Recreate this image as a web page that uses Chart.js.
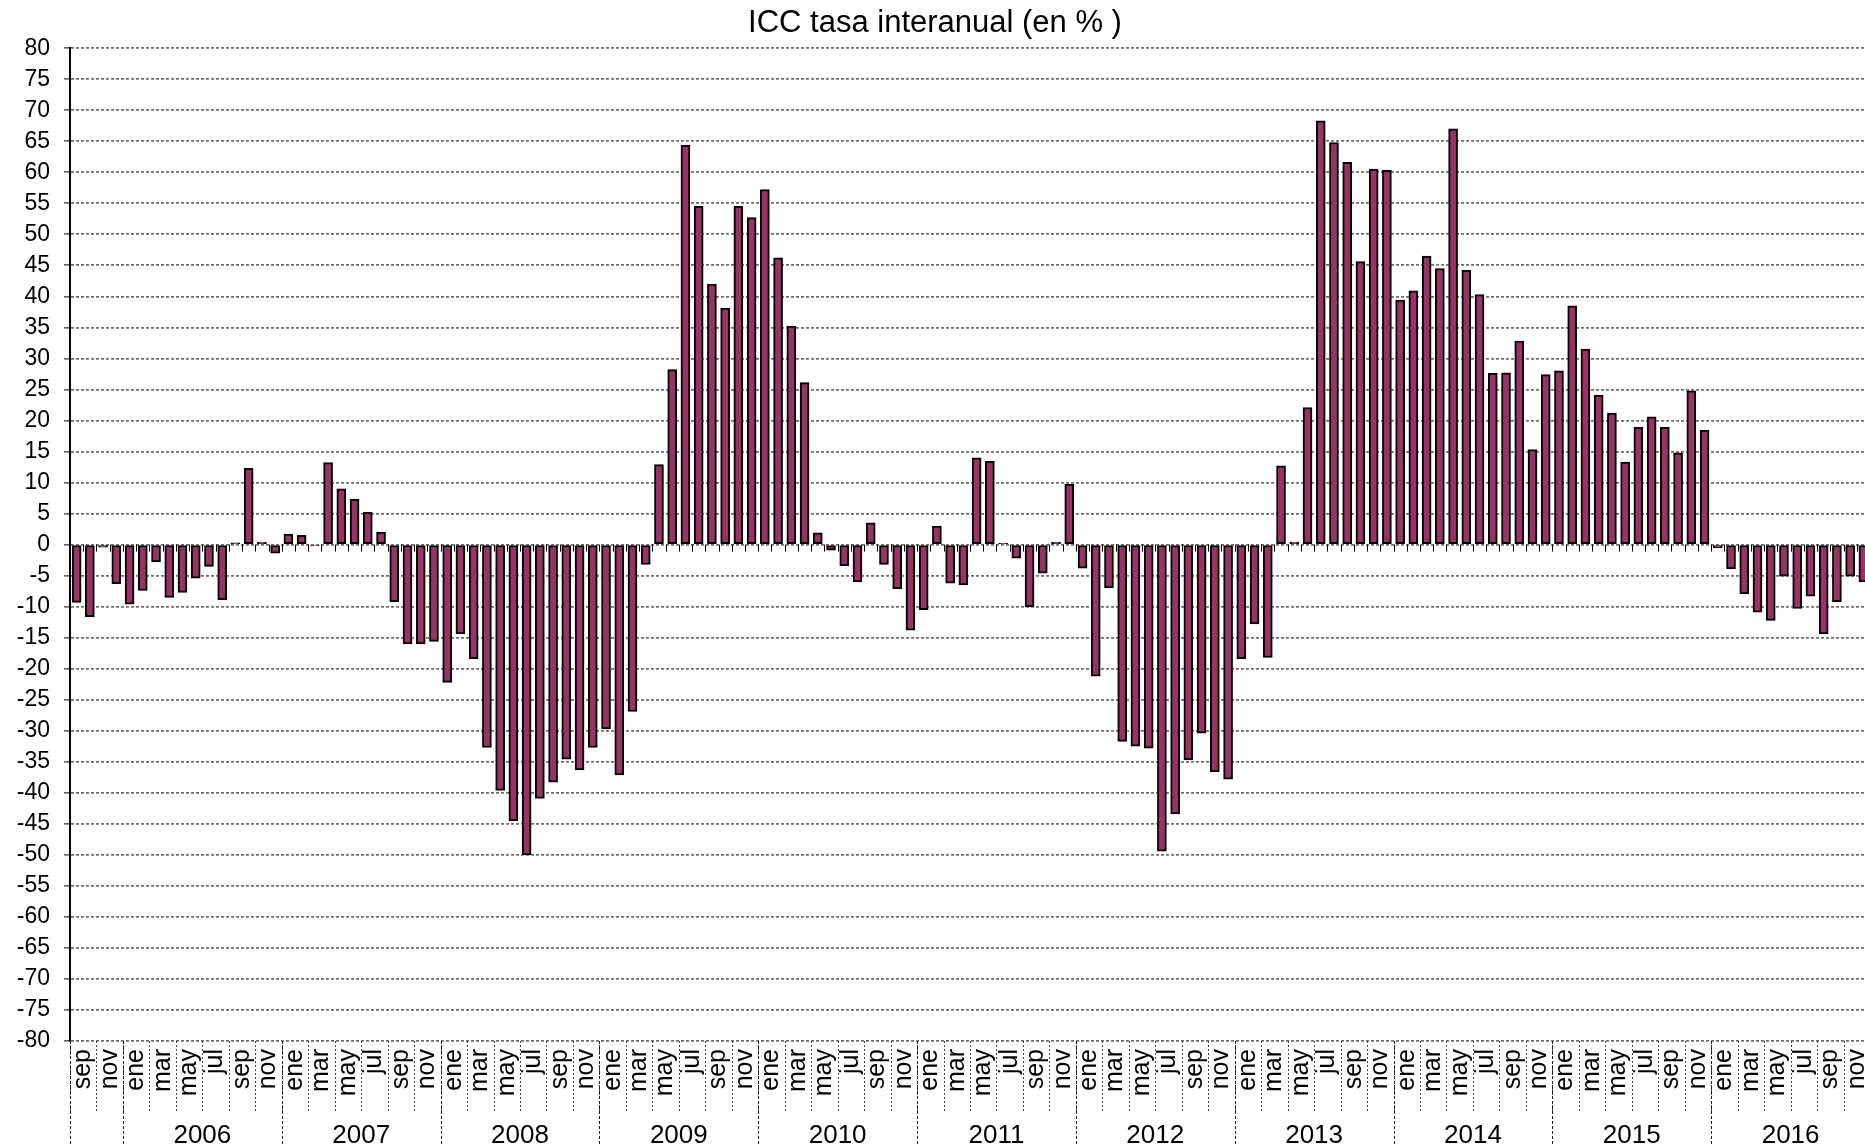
<!DOCTYPE html>
<html>
<head>
<meta charset="utf-8">
<title>ICC tasa interanual</title>
<script src="https://cdn.jsdelivr.net/npm/chart.js@4"></script>
<style>
  html, body { margin: 0; padding: 0; background: #fff; overflow: hidden; }
  canvas { display: block; }
</style>
</head>
<body>
<canvas id="iccChart" width="1872" height="1146"></canvas>
<script>
// ICC tasa interanual (en %), serie mensual sep 2005 - dic 2016

const monthNames = ['ene', 'feb', 'mar', 'abr', 'may', 'jun', 'jul', 'ago', 'sep', 'oct', 'nov', 'dic'];
const years = [2005, 2006, 2007, 2008, 2009, 2010, 2011, 2012, 2013, 2014, 2015, 2016];
const firstMonth = 8; // the series starts in sep 2005

// values read per year (2005 only sep-dic)
const icc2005 = [-9.3, -11.6, -0.4, -6.3];
const icc2006 = [-9.6, -7.4, -2.8, -8.5, -7.7, -5.4, -3.5, -8.9, 0.3, 12.3, 0.4, -1.4];
const icc2007 = [1.7, 1.5, -0.2, 13.2, 9.0, 7.3, 5.2, 2.0, -9.2, -16.0, -16.0, -15.6];
const icc2008 = [-22.2, -14.4, -18.4, -32.7, -39.6, -44.5, -50.0, -40.9, -38.3, -34.6, -36.3, -32.7];
const icc2009 = [-29.7, -37.1, -26.9, -3.2, 12.9, 28.2, 64.4, 54.5, 42.0, 38.1, 54.5, 52.7];
const icc2010 = [57.2, 46.2, 35.2, 26.1, 1.9, -0.9, -3.4, -6.0, 3.5, -3.2, -7.1, -13.8];
const icc2011 = [-10.5, 3.0, -6.2, -6.5, 14.0, 13.4, 0.2, -2.2, -10.0, -4.6, 0.4, 9.7];
const icc2012 = [-3.8, -21.2, -7.0, -31.7, -32.5, -32.8, -49.4, -43.4, -34.7, -30.4, -36.6, -37.8];
const icc2013 = [-18.4, -12.8, -18.2, 12.7, 0.4, 22.1, 68.3, 64.8, 61.6, 45.6, 60.5, 60.3];
const icc2014 = [39.4, 40.9, 46.5, 44.5, 67.0, 44.2, 40.3, 27.6, 27.7, 32.8, 15.3, 27.4];
const icc2015 = [28.0, 38.5, 31.5, 24.1, 21.2, 13.3, 18.9, 20.6, 18.9, 14.8, 24.8, 18.4];
const icc2016 = [-0.5, -3.9, -7.9, -10.9, -12.2, -5.1, -10.3, -8.3, -14.4, -9.2, -5.1, -6.0];

const iccValues = [].concat(icc2005, icc2006, icc2007, icc2008, icc2009, icc2010,
    icc2011, icc2012, icc2013, icc2014, icc2015, icc2016);

// category info: month index + year for each bar
const catMonth = [];
const catYear = [];
const categories = [];
for (let i = 0; i < iccValues.length; i++) {
    const m = (firstMonth + i) % 12;
    const yr = years[0] + Math.floor((firstMonth + i) / 12);
    catMonth.push(m);
    catYear.push(yr);
    categories.push(monthNames[m] + ' ' + yr);
}

const FONT = "'Liberation Sans', Arial, sans-serif";

// two level category axis (months every 2, years below) drawn from the x scale
const twoLevelAxis = {
    id: 'twoLevelAxis',
    afterDraw(chart) {
        const ctx = chart.ctx;
        const x = chart.scales.x;
        const y = chart.scales.y;
        const n = categories.length;
        const step = x.getPixelForValue(1) - x.getPixelForValue(0);
        const edge = i => x.getPixelForValue(i) - step / 2;
        const y0 = y.getPixelForValue(0);
        const bottom = chart.chartArea.bottom;
        const H = chart.height;

        ctx.save();
        // small ticks under the zero line
        ctx.strokeStyle = '#000';
        ctx.lineWidth = 1;
        ctx.beginPath();
        for (let i = 0; i <= n; i++) {
            const px = Math.round(edge(i)) + 0.5;
            ctx.moveTo(px, y0);
            ctx.lineTo(px, y0 + 7);
        }
        ctx.stroke();

        // month separators
        ctx.strokeStyle = '#444';
        ctx.setLineDash([2, 2]);
        ctx.beginPath();
        for (let i = 0; i < n; i += 2) {
            const px = Math.round(edge(i)) + 0.5;
            ctx.moveTo(px, bottom);
            ctx.lineTo(px, bottom + 72);
        }
        ctx.stroke();

        // year separators
        ctx.strokeStyle = '#222';
        ctx.setLineDash([3, 2]);
        ctx.beginPath();
        for (let i = 0; i < n; i++) {
            if (i === 0 || catMonth[i] === 0) {
                const px = Math.round(edge(i)) + 0.5;
                ctx.moveTo(px, bottom);
                ctx.lineTo(px, H);
            }
        }
        ctx.stroke();
        ctx.setLineDash([]);

        // month labels, rotated
        ctx.fillStyle = '#000';
        ctx.font = '25px ' + FONT;
        ctx.textAlign = 'right';
        ctx.textBaseline = 'middle';
        for (let i = 0; i < n; i += 2) {
            const cx = edge(i) + step;
            ctx.save();
            ctx.translate(cx, bottom + 8);
            ctx.rotate(-Math.PI / 2);
            ctx.fillText(monthNames[catMonth[i]], 0, 0);
            ctx.restore();
        }

        // year labels (only full years)
        ctx.font = '26px ' + FONT;
        ctx.textAlign = 'center';
        ctx.textBaseline = 'alphabetic';
        years.forEach(yr => {
            const idx = [];
            catYear.forEach((v, i) => { if (v === yr) idx.push(i); });
            if (idx.length < 12) return;
            const cx = (edge(idx[0]) + edge(idx[idx.length - 1] + 1)) / 2;
            ctx.fillText(String(yr), cx, bottom + 102);
        });
        ctx.restore();
    }
};

new Chart(document.getElementById('iccChart'), {
    type: 'bar',
    data: {
        labels: categories,
        datasets: [{
            label: 'ICC tasa interanual',
            data: iccValues,
            backgroundColor: '#993366',
            borderColor: '#000',
            borderWidth: 2,
            borderSkipped: false,
            barThickness: 9
        }]
    },
    options: {
        responsive: false,
        animation: false,
        layout: { padding: { top: 0, left: 0, right: 2, bottom: 105 } },
        plugins: {
            legend: { display: false },
            tooltip: { enabled: false },
            title: {
                display: true,
                text: 'ICC tasa interanual (en % )',
                color: '#000',
                font: { family: FONT, size: 31, weight: 'normal', lineHeight: 1.2 },
                padding: { top: 5, bottom: 6 }
            }
        },
        scales: {
            x: {
                type: 'category',
                display: false,
                offset: true
            },
            y: {
                min: -80,
                max: 80,
                afterFit(scale) { scale.width = 70; },
                ticks: {
                    stepSize: 5,
                    autoSkip: false,
                    color: '#000',
                    padding: 14,
                    font: { family: FONT, size: 23 }
                },
                grid: {
                    color: '#707070',
                    lineWidth: 1.8,
                    tickLength: 6,
                    tickColor: '#000',
                    tickWidth: 1
                },
                border: {
                    display: true,
                    color: '#000',
                    width: 2,
                    dash: [3, 2]
                }
            }
        }
    },
    plugins: [twoLevelAxis]
});
</script>
</body>
</html>
